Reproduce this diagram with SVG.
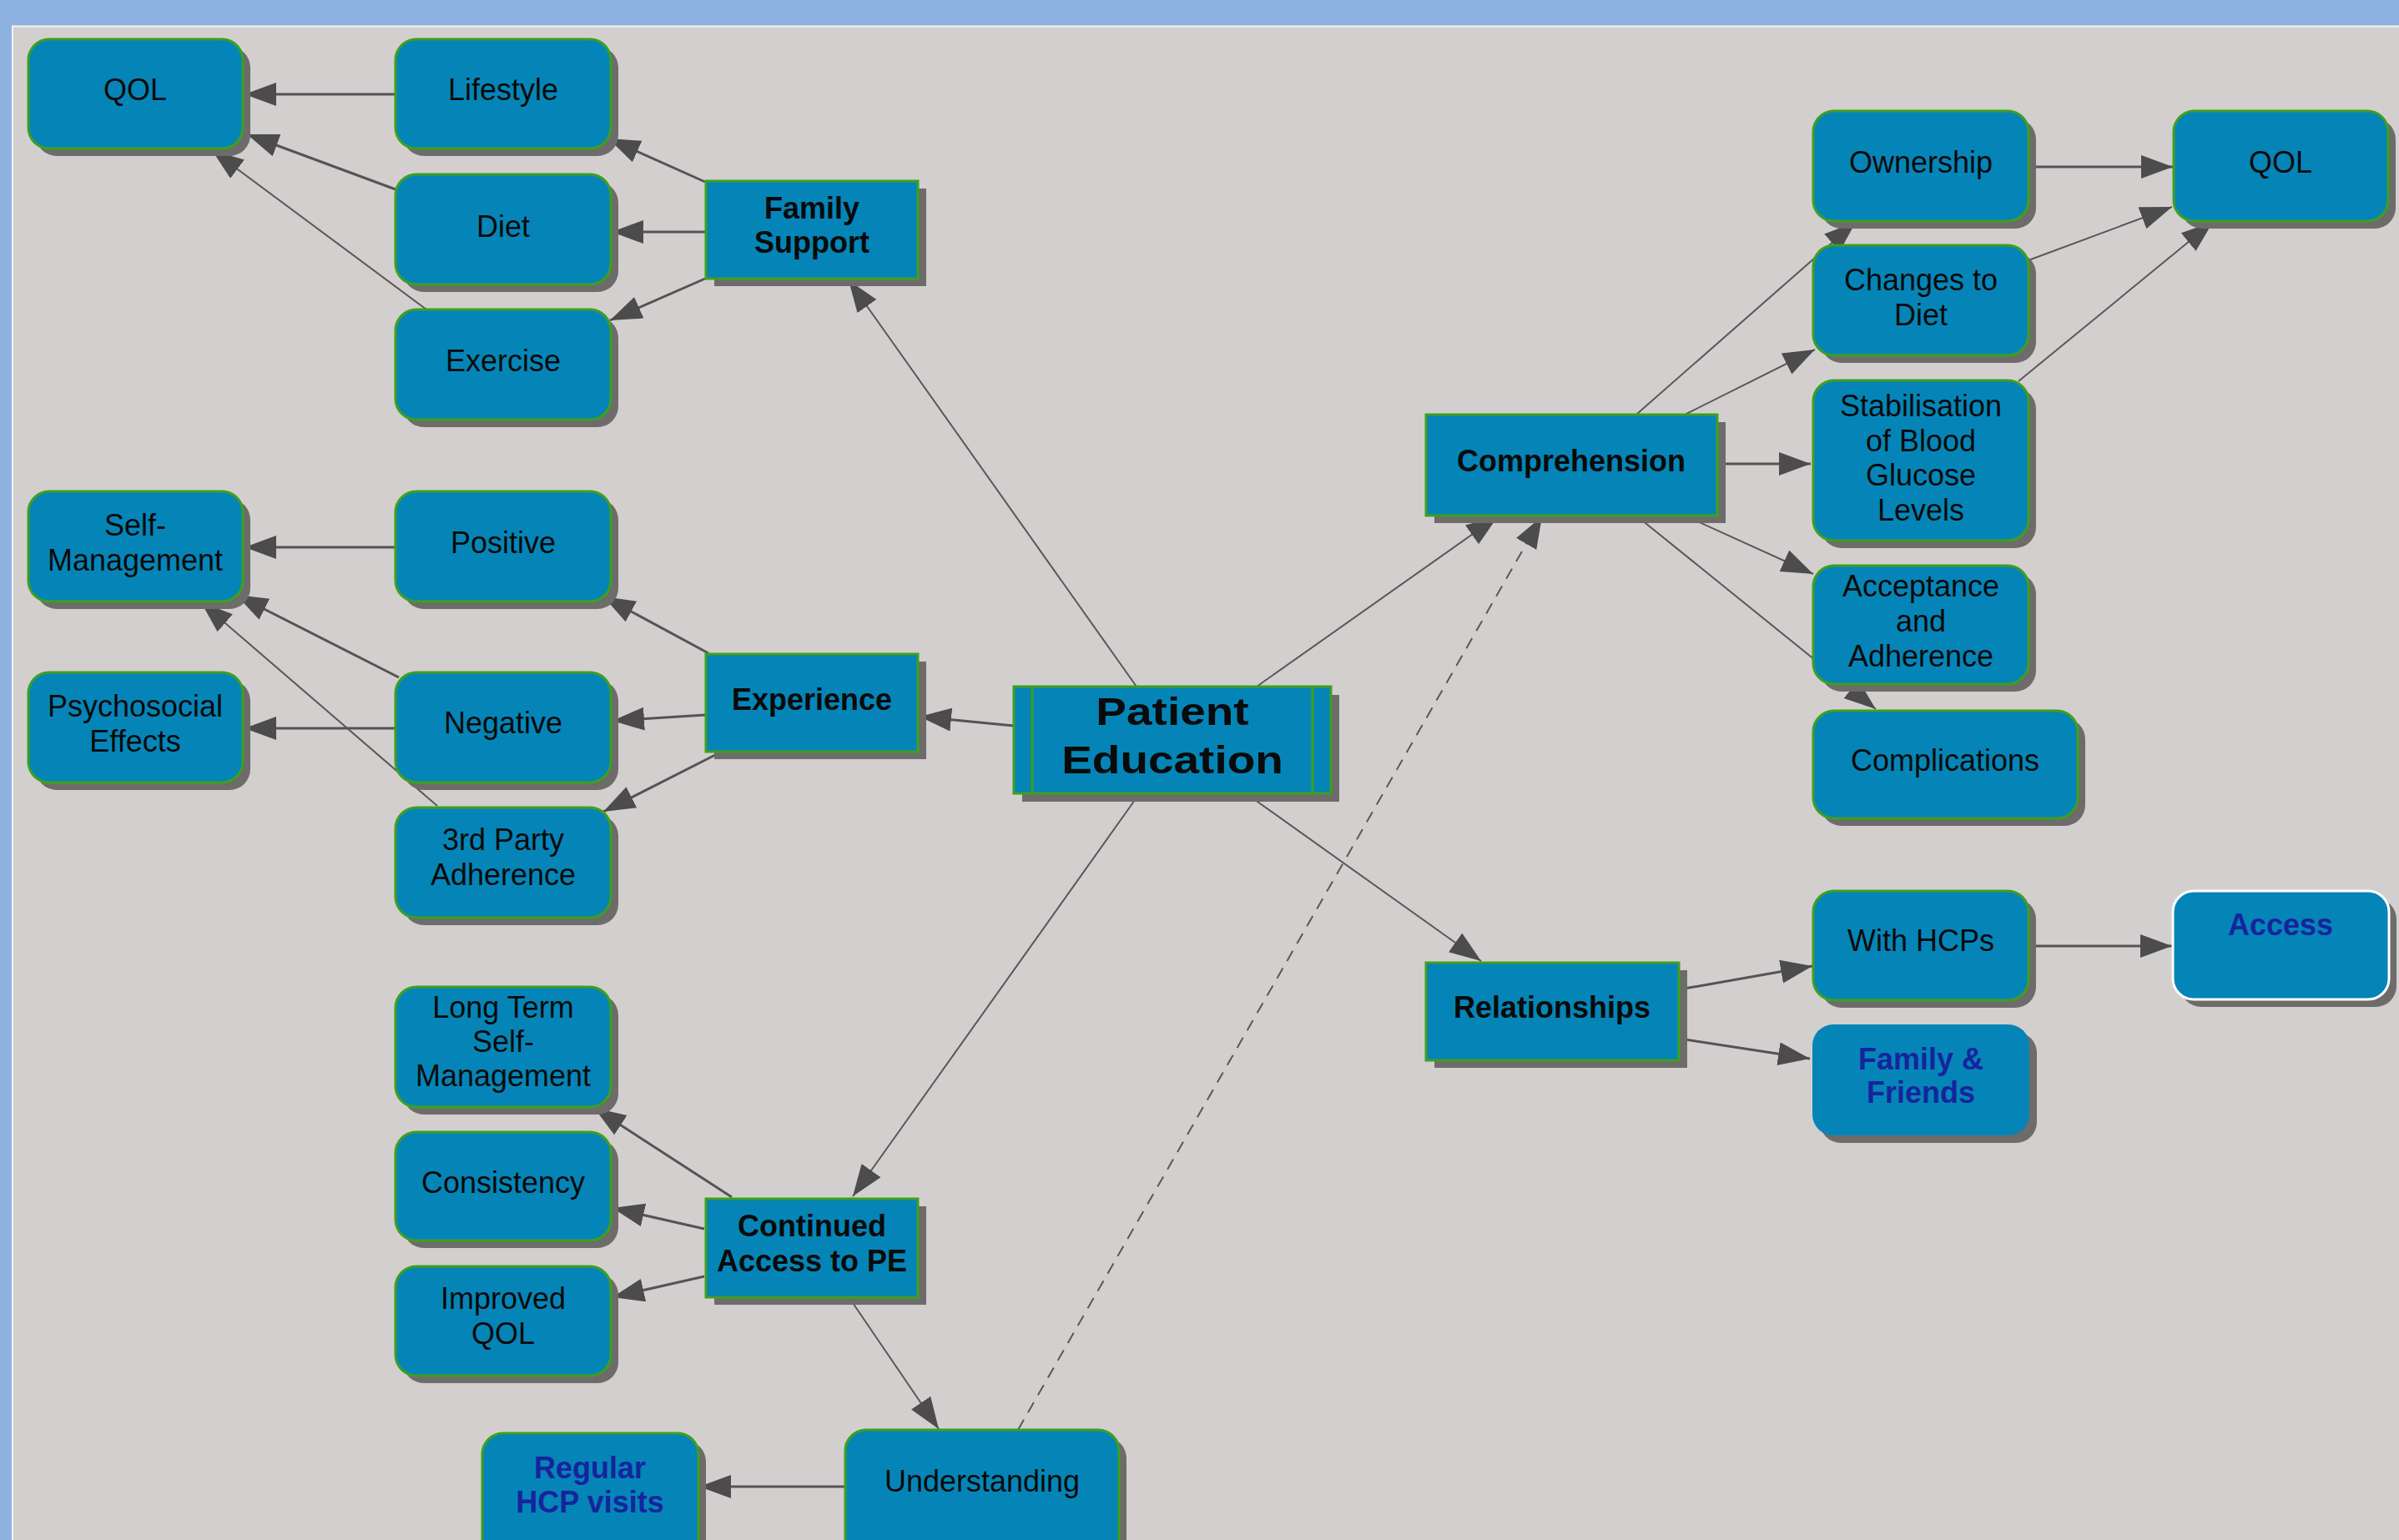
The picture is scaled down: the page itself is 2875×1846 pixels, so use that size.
<svg xmlns="http://www.w3.org/2000/svg" width="2875" height="1846" viewBox="0 0 2875 1846">
<defs>
<style>
.sh{fill:#6e6b6b}
.rn{fill:#0585b7;stroke:#3f9f1f;stroke-width:3}
.nb{fill:#0585b7;stroke:none}
.wb{fill:#0585b7;stroke:#ffffff;stroke-width:3}
.t{font-family:"Liberation Sans",Arial,sans-serif;font-size:36px;text-anchor:middle;fill:#0a0a0a}
.b{font-weight:bold}
.bl{fill:#16249c;font-weight:bold}
.c{fill:none;stroke:#545454;stroke-width:3;marker-end:url(#ah)}
.c2{fill:none;stroke:#585858;stroke-width:2;marker-end:url(#ah)}
.d{fill:none;stroke:#585858;stroke-width:2;stroke-dasharray:14 10;marker-end:url(#ah)}
</style>
<marker id="ah" markerUnits="userSpaceOnUse" markerWidth="40" markerHeight="30" refX="38" refY="14" orient="auto" viewBox="0 0 40 30">
<path d="M0,0 L38,14 L0,28 z" fill="#4c4c4c"/>
</marker>
</defs>
<rect x="0" y="0" width="2875" height="1846" fill="#8eb2e0"/>
<rect x="15" y="31" width="2860" height="1815" fill="#d3cfcf"/>
<path d="M15,1846 V31.5 H2875" fill="none" stroke="#f4f4f4" stroke-width="2"/>

<g id="connectors">
<path class="c" d="M474,113 L293,113"/>
<path class="c" d="M474,227 L296,161"/>
<path class="c2" d="M511,371 L254,180"/>
<path class="c" d="M845,218 L729,166"/>
<path class="c" d="M846,278 L733,278"/>
<path class="c" d="M845,334 L731,384"/>
<path class="c2" d="M1362,823 L1017,336"/>

<path class="c" d="M474,656 L293,656"/>
<path class="c" d="M478,812 L283,713"/>
<path class="c2" d="M524,966 L241,722"/>
<path class="c" d="M474,873 L293,873"/>
<path class="c" d="M849,783 L723,715"/>
<path class="c" d="M845,857 L734,864"/>
<path class="c" d="M861,903 L723,973"/>
<path class="c" d="M1215,870 L1102,859"/>

<path class="c" d="M877,1435 L712,1328"/>
<path class="c" d="M844,1473 L734,1448"/>
<path class="c" d="M844,1530 L734,1555"/>
<path class="c2" d="M1365,952 L1022,1434"/>
<path class="c2" d="M1018,1556 L1125,1713"/>
<path class="c" d="M1013,1782 L838,1782"/>
<path class="d" d="M1220,1714 L1848,619"/>

<path class="c2" d="M1506,823 L1795,619"/>
<path class="c2" d="M1962,496 L2224,266"/>
<path class="c2" d="M2021,496 L2175,419"/>
<path class="c" d="M2058,556 L2170,556"/>
<path class="c2" d="M2021,619 L2173,688"/>
<path class="c2" d="M1962,619 L2248,850"/>
<path class="c" d="M2431,200 L2604,200"/>
<path class="c2" d="M2431,312 L2603,248"/>
<path class="c2" d="M2419,457 L2652,266"/>

<path class="c2" d="M1493,951 L1775,1152"/>
<path class="c" d="M2013,1186 L2172,1158"/>
<path class="c" d="M2013,1245 L2169,1269"/>
<path class="c" d="M2431,1134 L2603,1134"/>
</g>

<g id="n-qol-left"><rect class="sh" x="43" y="56" width="257" height="131" rx="25"/><rect class="rn" x="34" y="47" width="257" height="131" rx="25"/><text class="t" x="162" y="120">QOL</text></g>
<g id="n-lifestyle"><rect class="sh" x="483" y="56" width="258" height="131" rx="25"/><rect class="rn" x="474" y="47" width="258" height="131" rx="25"/><text class="t" x="603" y="120">Lifestyle</text></g>
<g id="n-diet"><rect class="sh" x="483" y="218" width="258" height="132" rx="25"/><rect class="rn" x="474" y="209" width="258" height="132" rx="25"/><text class="t" x="603" y="284">Diet</text></g>
<g id="n-exercise"><rect class="sh" x="483" y="380" width="258" height="132" rx="25"/><rect class="rn" x="474" y="371" width="258" height="132" rx="25"/><text class="t" x="603" y="445">Exercise</text></g>
<g id="n-family-support"><rect class="sh" x="856" y="226" width="254" height="117"/><rect class="rn" x="846" y="217" width="254" height="117"/><text class="t b" x="973" y="262">Family</text><text class="t b" x="973" y="303">Support</text></g>

<g id="n-self-management"><rect class="sh" x="43" y="598" width="257" height="132" rx="25"/><rect class="rn" x="34" y="589" width="257" height="132" rx="25"/><text class="t" x="162" y="642">Self-</text><text class="t" x="162" y="684">Management</text></g>
<g id="n-positive"><rect class="sh" x="483" y="598" width="258" height="132" rx="25"/><rect class="rn" x="474" y="589" width="258" height="132" rx="25"/><text class="t" x="603" y="663">Positive</text></g>
<g id="n-psychosocial"><rect class="sh" x="43" y="815" width="257" height="132" rx="25"/><rect class="rn" x="34" y="806" width="257" height="132" rx="25"/><text class="t" x="162" y="859">Psychosocial</text><text class="t" x="162" y="901">Effects</text></g>
<g id="n-negative"><rect class="sh" x="483" y="815" width="258" height="132" rx="25"/><rect class="rn" x="474" y="806" width="258" height="132" rx="25"/><text class="t" x="603" y="879">Negative</text></g>
<g id="n-experience"><rect class="sh" x="856" y="793" width="254" height="117"/><rect class="rn" x="846" y="784" width="254" height="117"/><text class="t b" x="973" y="851">Experience</text></g>
<g id="n-3rd-party"><rect class="sh" x="483" y="977" width="258" height="132" rx="25"/><rect class="rn" x="474" y="968" width="258" height="132" rx="25"/><text class="t" x="603" y="1019">3rd Party</text><text class="t" x="603" y="1061">Adherence</text></g>

<g id="n-long-term"><rect class="sh" x="483" y="1192" width="258" height="144" rx="25"/><rect class="rn" x="474" y="1183" width="258" height="144" rx="25"/><text class="t" x="603" y="1220">Long Term</text><text class="t" x="603" y="1261">Self-</text><text class="t" x="603" y="1302">Management</text></g>
<g id="n-consistency"><rect class="sh" x="483" y="1366" width="258" height="130" rx="25"/><rect class="rn" x="474" y="1357" width="258" height="130" rx="25"/><text class="t" x="603" y="1430">Consistency</text></g>
<g id="n-improved-qol"><rect class="sh" x="483" y="1527" width="258" height="131" rx="25"/><rect class="rn" x="474" y="1518" width="258" height="131" rx="25"/><text class="t" x="603" y="1569">Improved</text><text class="t" x="603" y="1611">QOL</text></g>
<g id="n-continued-access"><rect class="sh" x="856" y="1446" width="254" height="118"/><rect class="rn" x="846" y="1437" width="254" height="118"/><text class="t b" x="973" y="1482">Continued</text><text class="t b" x="973" y="1524">Access to PE</text></g>
<g id="n-regular-hcp"><rect class="sh" x="587" y="1727" width="259" height="200" rx="25"/><rect class="rn" x="578" y="1718" width="259" height="200" rx="25"/><text class="t bl" x="707" y="1772">Regular</text><text class="t bl" x="707" y="1813">HCP visits</text></g>
<g id="n-understanding"><rect class="sh" x="1022" y="1723" width="328" height="200" rx="25"/><rect class="rn" x="1013" y="1714" width="328" height="200" rx="25"/><text class="t" x="1177" y="1788">Understanding</text></g>

<g id="n-patient-education"><rect class="sh" x="1225" y="833" width="380" height="128"/><rect class="rn" x="1215" y="823" width="380" height="128"/><path d="M1237,823 V951 M1573,823 V951" stroke="#3f9f1f" stroke-width="3"/><text class="t b" font-size="47" transform="translate(1405,0) scale(1.17,1)" x="0" y="869" style="font-size:47px">Patient</text><text class="t b" transform="translate(1405,0) scale(1.17,1)" x="0" y="927" style="font-size:47px">Education</text></g>

<g id="n-comprehension"><rect class="sh" x="1719" y="506" width="349" height="121"/><rect class="rn" x="1709" y="497" width="349" height="121"/><text class="t b" x="1883" y="565">Comprehension</text></g>
<g id="n-ownership"><rect class="sh" x="2182" y="142" width="258" height="132" rx="25"/><rect class="rn" x="2173" y="133" width="258" height="132" rx="25"/><text class="t" x="2302" y="207">Ownership</text></g>
<g id="n-qol-right"><rect class="sh" x="2614" y="142" width="257" height="132" rx="25"/><rect class="rn" x="2605" y="133" width="257" height="132" rx="25"/><text class="t" x="2733" y="207">QOL</text></g>
<g id="n-changes-diet"><rect class="sh" x="2182" y="303" width="258" height="132" rx="25"/><rect class="rn" x="2173" y="294" width="258" height="132" rx="25"/><text class="t" x="2302" y="348">Changes to</text><text class="t" x="2302" y="390">Diet</text></g>
<g id="n-stabilisation"><rect class="sh" x="2182" y="465" width="258" height="192" rx="25"/><rect class="rn" x="2173" y="456" width="258" height="192" rx="25"/><text class="t" x="2302" y="499">Stabilisation</text><text class="t" x="2302" y="541">of Blood</text><text class="t" x="2302" y="582">Glucose</text><text class="t" x="2302" y="624">Levels</text></g>
<g id="n-acceptance"><rect class="sh" x="2182" y="687" width="258" height="142" rx="25"/><rect class="rn" x="2173" y="678" width="258" height="142" rx="25"/><text class="t" x="2302" y="715">Acceptance</text><text class="t" x="2302" y="757">and</text><text class="t" x="2302" y="799">Adherence</text></g>
<g id="n-complications"><rect class="sh" x="2182" y="861" width="317" height="129" rx="25"/><rect class="rn" x="2173" y="852" width="317" height="129" rx="25"/><text class="t" x="2331" y="924">Complications</text></g>

<g id="n-relationships"><rect class="sh" x="1719" y="1163" width="303" height="117"/><rect class="rn" x="1709" y="1154" width="303" height="117"/><text class="t b" x="1860" y="1220">Relationships</text></g>
<g id="n-with-hcps"><rect class="sh" x="2182" y="1077" width="258" height="131" rx="25"/><rect class="rn" x="2173" y="1068" width="258" height="131" rx="25"/><text class="t" x="2302" y="1140">With HCPs</text></g>
<g id="n-access"><rect class="sh" x="2613" y="1077" width="259" height="130" rx="25"/><rect class="wb" x="2604" y="1068" width="259" height="130" rx="25"/><text class="t bl" x="2733" y="1121">Access</text></g>
<g id="n-family-friends"><rect class="sh" x="2181" y="1237" width="260" height="133" rx="25"/><rect class="nb" x="2172" y="1228" width="260" height="133" rx="25"/><text class="t bl" x="2302" y="1282">Family &amp;</text><text class="t bl" x="2302" y="1322">Friends</text></g>
</svg>
